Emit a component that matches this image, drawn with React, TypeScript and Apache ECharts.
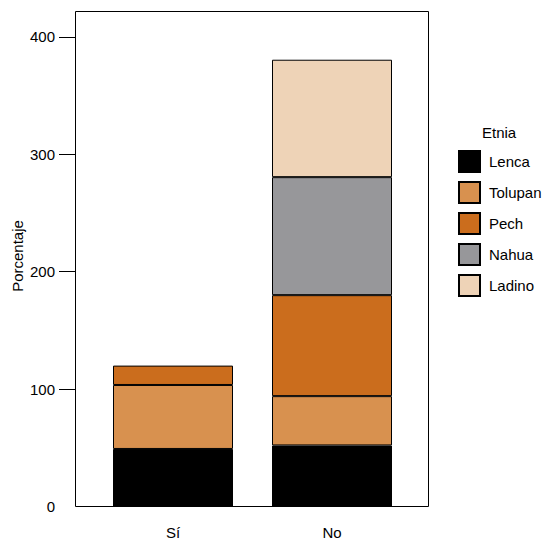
import React, { useEffect, useRef } from "react";
import * as echarts from "echarts";

const categories = ["Sí", "No"];
const seriesNames = ["Lenca", "Tolupan", "Pech", "Nahua", "Ladino"];
const lenca = [49, 52];
const tolupan = [54.5, 42];
const pech = [16.5, 86];
const nahua = [null, 100.5];
const ladino = [null, 100];
const seriesColors = ["#000000", "#D8914F", "#CB6D1D", "#97979A", "#EED3B7"];
const yTicks = [100, 200, 300, 400];
const yLabels = [0, 100, 200, 300, 400];
const yTitle = "Porcentaje";
const legendTitle = "Etnia";

const FONT = "Liberation Sans, Arial, Helvetica, sans-serif";

export default function App() {
  const ref = useRef<HTMLDivElement>(null);
  useEffect(() => {
    if (!ref.current) return;
    const chart = echarts.init(ref.current, null, { renderer: "svg" });
    const values = [lenca, tolupan, pech, nahua, ladino];
    chart.setOption({
      animation: false,
      textStyle: { fontFamily: FONT },
      grid: {
        left: 93.5,
        right: 132.5,
        top: 11,
        bottom: 32.5,
        containLabel: false,
        outerBoundsMode: "none",
      },
      xAxis: {
        type: "category",
        data: categories,
        axisLine: { show: false },
        axisTick: { show: false },
        axisLabel: { fontSize: 15, color: "#000", margin: 18, fontFamily: FONT },
      },
      yAxis: {
        type: "value",
        min: 0,
        max: 422,
        interval: 100,
        offset: 18.5,
        splitLine: { show: false },
        axisLine: { show: false },
        axisTick: { show: true, length: 16, customValues: yTicks, lineStyle: { color: "#000" } },
        axisLabel: { fontSize: 15, color: "#000", margin: 20, fontFamily: FONT, customValues: yLabels },
      },
      legend: {
        orient: "vertical",
        left: 458,
        top: 150,
        padding: 0,
        itemWidth: 21,
        itemHeight: 21,
        itemGap: 8,
        icon: "rect",
        textStyle: { fontSize: 15, color: "#000", fontFamily: FONT, padding: [0, 0, 0, 4] },
        data: seriesNames,
      },
      graphic: [
        {
          type: "rect",
          shape: { x: 75.5, y: 11.5, width: 353, height: 495 },
          style: { fill: "none", stroke: "#000", lineWidth: 1 },
          z: 100,
          silent: true,
        },
        {
          type: "text",
          x: 482,
          y: 132,
          style: { text: legendTitle, fontSize: 15, fill: "#000", fontFamily: FONT, verticalAlign: "middle" },
        },
        {
          type: "text",
          x: 17.5,
          y: 256,
          rotation: Math.PI / 2,
          style: {
            text: yTitle,
            fontSize: 15,
            fill: "#000",
            fontFamily: FONT,
            align: "center",
            verticalAlign: "middle",
          },
        },
      ],
      series: seriesNames.map((name, i) => ({
        name,
        type: "bar",
        stack: "total",
        barWidth: 120,
        data: values[i],
        itemStyle: { color: seriesColors[i], borderColor: "#000", borderWidth: 1 },
      })),
    });
    return () => chart.dispose();
  }, []);
  return (
    <div
      ref={ref}
      style={{ position: "absolute", left: 0, top: 0, width: 544, height: 539, background: "#fff" }}
    />
  );
}
